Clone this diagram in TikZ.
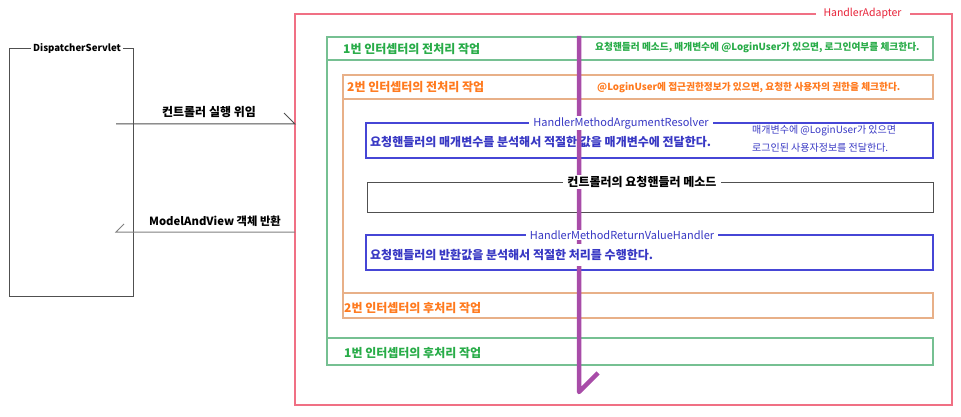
\documentclass[tikz,border=0pt]{standalone}
\usepackage{fontspec}
\setmainfont{Noto Sans CJK KR}
\definecolor{redline}{RGB}{240,112,132}
\definecolor{redtext}{RGB}{232,34,56}
\definecolor{grline}{RGB}{118,192,146}
\definecolor{grtext}{RGB}{40,172,72}
\definecolor{orline}{RGB}{232,176,136}
\definecolor{ortext}{RGB}{255,122,30}
\definecolor{blline}{RGB}{70,70,214}
\definecolor{bltext}{RGB}{56,56,196}
\definecolor{bkline}{RGB}{80,80,80}
\definecolor{purp}{RGB}{168,76,168}
\begin{document}
\begin{tikzpicture}[x=1pt,y=-1pt,
  frame/.style={draw, outer sep=0pt, inner sep=0pt, anchor=north west},
  lbl/.style={font=\bfseries\fontsize{12}{14}\selectfont, anchor=west, inner sep=0pt},
  note/.style={font=\bfseries\fontsize{9.7}{11}\selectfont, anchor=west, inner sep=0pt},
  smallnote/.style={font=\fontsize{10}{12}\selectfont, anchor=west, inner sep=0pt},
  ttl/.style={fill=white, inner ysep=1pt, inner xsep=4pt, font=\fontsize{11}{13}\selectfont},
  conn/.style={draw=bkline, line width=1pt}
]
\useasboundingbox (0,0) rectangle (961,417);
\fill[white] (0,0) rectangle (961,417);

% frames
\node[frame, draw=bkline, line width=1pt, minimum width=124pt, minimum height=247pt] (ds) at (9,49) {};
\node[frame, draw=redline, line width=1.2pt, minimum width=657pt, minimum height=391pt] (ha) at (295,14) {};
\node[frame, draw=grline, line width=1.2pt, minimum width=606pt, minimum height=23pt] (g1) at (327,37) {};
\node[frame, draw=grline, line width=1.2pt, minimum width=606pt, minimum height=27pt] (g2) at (327,338) {};
\draw[grline, line width=1.2pt] (g1.south west) -- (g2.north west);
\node[frame, draw=orline, line width=1.2pt, minimum width=590pt, minimum height=24pt] (o1) at (343,75) {};
\node[frame, draw=orline, line width=1.2pt, minimum width=590pt, minimum height=25pt] (o2) at (343,293) {};
\draw[orline, line width=1.2pt] (o1.south west) -- (o2.north west);
\node[frame, draw=blline, line width=2pt, minimum width=567pt, minimum height=35pt] (b1) at (366,123) {};
\node[frame, draw=bkline, line width=1pt, minimum width=566pt, minimum height=30pt] (cb) at (367,182) {};
\node[frame, draw=blline, line width=2pt, minimum width=567pt, minimum height=35pt] (b2) at (366,235) {};

% texts inside frames
\node[lbl, text=grtext] (g1l) at (343,49) {1번 인터셉터의 전처리 작업};
\node[note, text=grtext] (g1n) at (595,48) {요청핸들러 메소드, 매개변수에 @LoginUser가 있으면, 로그인여부를 체크한다.};
\node[lbl, text=ortext] (o1l) at (347,87) {2번 인터셉터의 전처리 작업};
\node[note, text=ortext] (o1n) at (597,88) {@LoginUser에 접근권한정보가 있으면, 요청한 사용자의 권한을 체크한다.};
\node[lbl, text=bltext] (b1l) at (370,142) {요청핸들러의 매개변수를 분석해서 적절한 값을 매개변수에 전달한다.};
\node[smallnote, text=bltext] (b1n1) at (752,131) {매개변수에 @LoginUser가 있으면};
\node[smallnote, text=bltext] (b1n2) at (752,148) {로그인된 사용자정보를 전달한다.};
\node[lbl, text=ortext] (o2l) at (344,308) {2번 인터셉터의 후처리 작업};
\node[lbl, text=grtext] (g2l) at (344,353) {1번 인터셉터의 후처리 작업};

% purple flow arrow
\coordinate (pt) at (579,36);
\coordinate (pb) at (579,392);
\draw[purp, line width=4.5pt, line join=round] (pt) -- (pb) -- ++(19,-19);

% titles on frame lines
\node[ttl, text=redtext, inner xsep=8pt, font=\fontsize{10.5}{12}\selectfont] (hat) at (862.5,14) {HandlerAdapter};
\node[ttl, text=bltext] (b1t) at (621,123) {HandlerMethodArgumentResolver};
\node[ttl, text=black, font=\bfseries\fontsize{12}{14}\selectfont] (cbt) at (642,182) {컨트롤러의 요청핸들러 메소드};
\node[ttl, text=bltext] (b2t) at (622,235) {HandlerMethodReturnValueHandler};
\node[lbl, text=bltext, fill=white, inner ysep=5pt] (b2l) at (370,255) {요청핸들러의 반환값을 분석해서 적절한 처리를 수행한다.};
\node[anchor=west, fill=white, inner xsep=2pt, inner ysep=1pt, font=\bfseries\fontsize{9.6}{11}\selectfont] (dst) at (31,49) {DispatcherServlet};

% connectors between DispatcherServlet and HandlerAdapter
\coordinate (p1) at (116,124);
\coordinate (p2) at (116,232);
\draw[conn] (p1) -- (p1 -| ha.west) -- ++(-11,-11);
\draw[conn, draw=gray] (p2 -| ha.west) -- (p2) -- ++(8,-8);
\node[font=\bfseries\fontsize{12}{14}\selectfont] (a1l) at (209,112) {컨트롤러 실행 위임};
\node[font=\bfseries\fontsize{11.3}{13}\selectfont] (a2l) at (215,221) {ModelAndView 객체 반환};
\end{tikzpicture}
\end{document}
